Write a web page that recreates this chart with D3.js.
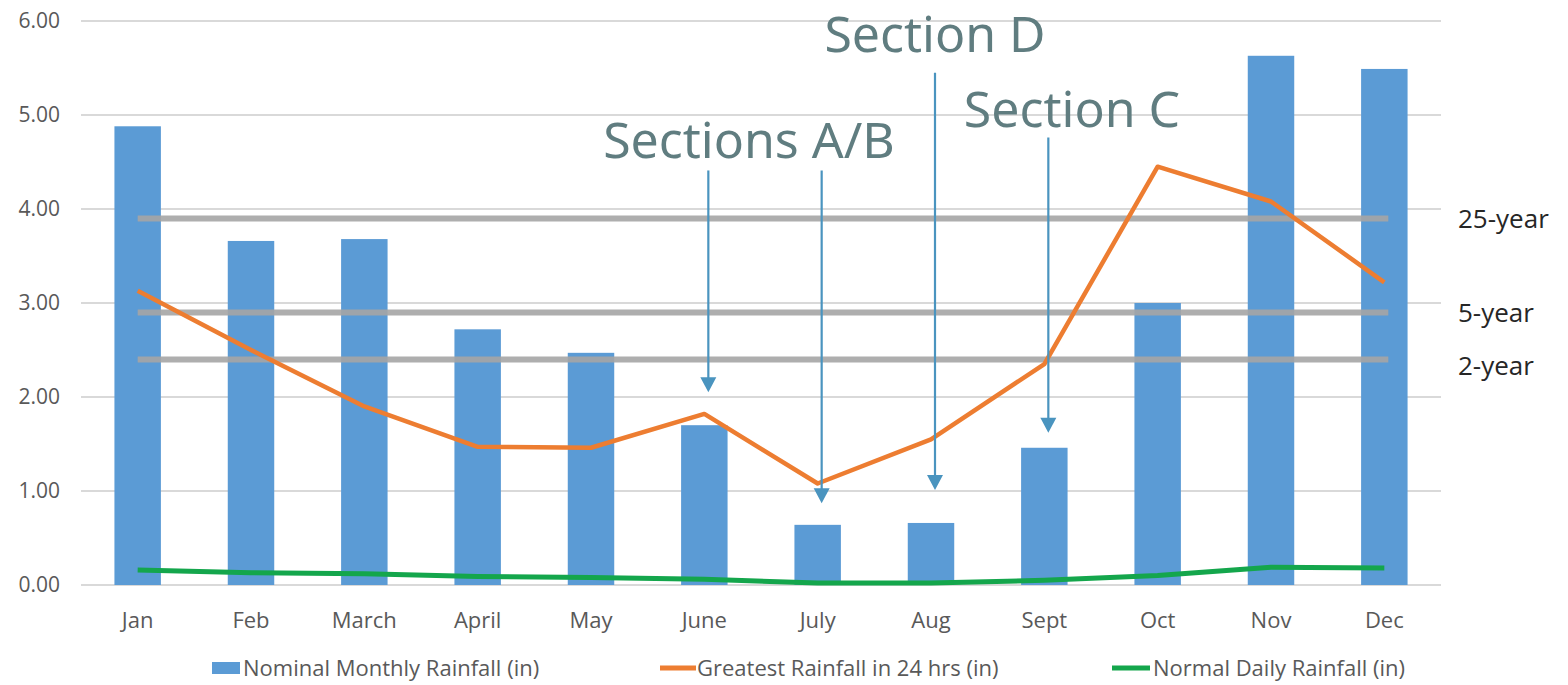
<!DOCTYPE html>
<html>
<head>
<meta charset="utf-8">
<script src="https://cdn.jsdelivr.net/npm/d3@7"></script>
<style>
  body { margin: 0; background: #fff; }
  svg { display: block; font-family: 'Open Sans', 'Noto Sans', sans-serif; }
</style>
</head>
<body>
<div id="main"></div>
<script>
'use strict';

// data
const months = ['Jan', 'Feb', 'March', 'April', 'May', 'June', 'July', 'Aug', 'Sept', 'Oct', 'Nov', 'Dec'];
const monthly = [4.88, 3.66, 3.68, 2.72, 2.47, 1.70, 0.64, 0.66, 1.46, 3.00, 5.63, 5.49];
const greatest24 = [3.13, 2.50, 1.90, 1.47, 1.46, 1.82, 1.08, 1.55, 2.35, 4.45, 4.08, 3.22];
const normalDaily = [0.16, 0.13, 0.12, 0.09, 0.08, 0.06, 0.02, 0.02, 0.05, 0.10, 0.19, 0.18];
const yTicks = [0, 1, 2, 3, 4, 5, 6];

const stormNames = ['25-year', '5-year', '2-year'];
const stormValues = [3.90, 2.90, 2.40];

const sectionNames = ['Sections A/B', 'Section D', 'Section C'];
const arrowMonths = ['June', 'July', 'Aug', 'Sept'];
const arrowTops = [4.41, 4.41, 5.45, 4.76];
const arrowTips = [2.05, 0.87, 1.01, 1.62];

const seriesNames = ['Nominal Monthly Rainfall (in)', 'Greatest Rainfall in 24 hrs (in)', 'Normal Daily Rainfall (in)'];

// config
const canvas = { width: 1568, height: 685 };
const plot = { left: 81, right: 1441, top: 21, bottom: 585 };
const colors = { bar: '#5b9bd5', orange: '#ed7d31', green: '#14a64c', storm: '#a6a6a6', grid: '#d9d9d9', text: '#595959', note: '#607d80', arrow: '#4a94bf' };

const svg = d3.select('#main').append('svg')
  .attr('width', canvas.width)
  .attr('height', canvas.height);

const x = d3.scaleBand().domain(months).range([plot.left, plot.right]).paddingInner(0);
const y = d3.scaleLinear().domain([0, 6]).range([plot.bottom, plot.top]);
const cx = m => x(m) + x.bandwidth() / 2;

// gridlines + y labels
svg.append('g').selectAll('line').data(yTicks).enter().append('line')
  .attr('x1', plot.left).attr('x2', plot.right)
  .attr('y1', d => y(d)).attr('y2', d => y(d))
  .attr('stroke', colors.grid).attr('stroke-width', 2);

svg.append('g').selectAll('text').data(yTicks).enter().append('text')
  .attr('x', 60).attr('y', d => y(d)).attr('dy', '0.35em')
  .attr('text-anchor', 'end').attr('font-size', 21).attr('fill', colors.text)
  .text(d => d3.format('.2f')(d));

// month labels
svg.append('g').selectAll('text').data(months).enter().append('text')
  .attr('x', d => cx(d)).attr('y', 620).attr('dy', '0.35em')
  .attr('text-anchor', 'middle').attr('font-size', 22).attr('fill', colors.text)
  .text(d => d);

// bars
const barW = x.bandwidth() * 0.41;
svg.append('g').selectAll('rect').data(monthly).enter().append('rect')
  .attr('x', (d, i) => cx(months[i]) - barW / 2)
  .attr('y', d => y(d))
  .attr('width', barW)
  .attr('height', d => y(0) - y(d))
  .attr('fill', colors.bar);

// storm lines
svg.append('g').selectAll('line').data(stormValues).enter().append('line')
  .attr('x1', cx(months[0])).attr('x2', cx(months[11]) + 4)
  .attr('y1', d => y(d)).attr('y2', d => y(d))
  .attr('stroke', colors.storm).attr('stroke-width', 6).attr('opacity', 0.9);

svg.append('g').selectAll('text').data(stormNames).enter().append('text')
  .attr('x', 1458).attr('y', (d, i) => y(stormValues[i]) + [0, 0, 6][i]).attr('dy', '0.35em')
  .attr('font-size', 26).attr('fill', '#262626')
  .text(d => d);

// lines
const line = d3.line().x((d, i) => cx(months[i])).y(d => y(d));

svg.append('path').datum(greatest24)
  .attr('d', line).attr('fill', 'none')
  .attr('stroke', colors.orange).attr('stroke-width', 4.5).attr('stroke-linejoin', 'round');

svg.append('path').datum(normalDaily)
  .attr('d', line).attr('fill', 'none')
  .attr('stroke', colors.green).attr('stroke-width', 5).attr('stroke-linejoin', 'round');

// section arrows
const arrows = svg.append('g');
arrowMonths.forEach((m, i) => {
  const ax = cx(m) + 4;
  const yTop = y(arrowTops[i]), yTip = y(arrowTips[i]);
  arrows.append('line')
    .attr('x1', ax).attr('x2', ax).attr('y1', yTop).attr('y2', yTip - 10)
    .attr('stroke', colors.arrow).attr('stroke-width', 2.2);
  arrows.append('path')
    .attr('d', `M${ax - 8},${yTip - 15}L${ax + 8},${yTip - 15}L${ax},${yTip}Z`)
    .attr('fill', colors.arrow);
});

// section labels
const notePos = [[749, 158], [935, 52], [1072, 127]];
svg.append('g').selectAll('text').data(sectionNames).enter().append('text')
  .attr('x', (d, i) => notePos[i][0]).attr('y', (d, i) => notePos[i][1])
  .attr('text-anchor', 'middle').attr('font-size', 50).attr('fill', colors.note)
  .attr('font-family', "'Noto Sans', sans-serif")
  .text(d => d);

// legend
const legend = svg.append('g').attr('font-size', 22).attr('fill', colors.text);
const legendX = [212, 660, 1112];
const legendText = [243, 697, 1153];

legend.append('rect').attr('x', legendX[0]).attr('y', 662).attr('width', 28).attr('height', 12).attr('fill', colors.bar);
legend.append('line').attr('x1', legendX[1]).attr('x2', legendX[1] + 36).attr('y1', 668).attr('y2', 668)
  .attr('stroke', colors.orange).attr('stroke-width', 5);
legend.append('line').attr('x1', legendX[2]).attr('x2', legendX[2] + 38).attr('y1', 668).attr('y2', 668)
  .attr('stroke', colors.green).attr('stroke-width', 5);

legend.selectAll('text').data(seriesNames).enter().append('text')
  .attr('x', (d, i) => legendText[i]).attr('y', 668).attr('dy', '0.35em')
  .text(d => d);
</script>
</body>
</html>
